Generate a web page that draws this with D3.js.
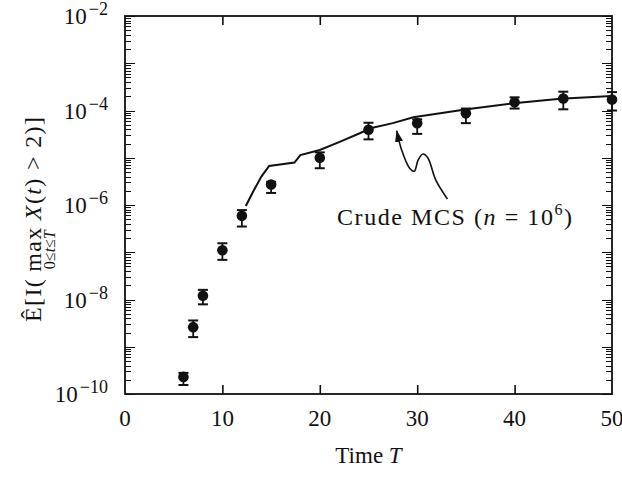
<!DOCTYPE html>
<html>
<head>
<meta charset="utf-8">
<style>
body { margin: 0; background: #fff; }
svg { font-family: "Liberation Serif", "DejaVu Serif", serif; }
.axis line { stroke: #111; stroke-width: 1.6; }
.axis .domain { display: none; }
.tk { stroke: #111; stroke-width: 1.6; shape-rendering: crispEdges; }
.lbl { font-size: 23px; fill: #111; }
</style>
<script src="https://d3js.org/d3.v7.min.js"></script>
</head>
<body>
<svg width="622" height="477"></svg>
<script>
// data
var times = [6, 7, 8, 10, 12, 15, 20, 25, 30, 35, 40, 45, 50];
var estimates = [2.3e-10, 2.6e-9, 1.2e-8, 1.1e-7, 5.9e-7, 2.7e-6, 1.0e-5, 3.9e-5, 5.4e-5, 8.7e-5, 1.5e-4, 1.8e-4, 1.7e-4];
var upper = [2.8e-10, 3.6e-9, 1.6e-8, 1.55e-7, 7.8e-7, 3.1e-6, 1.3e-5, 5.5e-5, 6.5e-5, 1.1e-4, 1.9e-4, 2.5e-4, 2.45e-4];
var lower = [1.55e-10, 1.6e-9, 7.9e-9, 6.9e-8, 3.5e-7, 1.8e-6, 6.0e-6, 2.45e-5, 3.2e-5, 5.4e-5, 1.1e-4, 1.06e-4, 1.0e-4];

// crude MCS curve
var mcsT = [12.4, 13.2, 14.0, 14.8, 17.4, 18.0, 20.0, 22.1, 24.1, 25.2, 27.5, 29.6, 32.7, 35.1, 39.9, 44.7, 50];
var mcsP = [9.5e-7, 2.0e-6, 4.0e-6, 6.7e-6, 7.9e-6, 1.14e-5, 1.46e-5, 2.2e-5, 3.3e-5, 4.2e-5, 5.4e-5, 7.2e-5, 9.0e-5, 1.06e-4, 1.42e-4, 1.78e-4, 2.03e-4];

// annotation arrow (bottom end -> tip), in data units
var arrowT = [33.1, 31.9, 31.1, 30.6, 30.1, 29.7, 29.2, 28.4, 27.9];
var arrowP = [1.34e-6, 3.4e-6, 9.9e-6, 1.2e-5, 9.0e-6, 5.2e-6, 6.1e-6, 1.46e-5, 3.7e-5];

var xTicks = [0, 10, 20, 30, 40, 50];
var yLabelExps = [-10, -8, -6, -4, -2];

var svg = d3.select("svg");
var mLeft = 125, mRight = 612, mTop = 16, mBottom = 394;

var x = d3.scaleLinear().domain([0, 50]).range([mLeft, mRight]);
var y = d3.scaleLog().domain([1e-10, 1e-2]).range([mBottom, mTop]);

var majors = [];
var minors = [];
for (var e = -10; e <= -2; e++) {
  majors.push(Math.pow(10, e));
  if (e < -2) {
    for (var k = 2; k <= 9; k++) minors.push(k * Math.pow(10, e));
  }
}
var innerX = xTicks.filter(function(t) { return t > 0 && t < 50; });

// y ticks on both sides, pointing inward
function yTicks(vals, len) {
  var g = svg.append("g");
  vals.forEach(function(v) {
    var yy = Math.round(y(v)) + 0.5;
    g.append("line").attr("class", "tk")
      .attr("x1", mLeft).attr("x2", mLeft + len).attr("y1", yy).attr("y2", yy);
    g.append("line").attr("class", "tk")
      .attr("x1", mRight).attr("x2", mRight - len).attr("y1", yy).attr("y2", yy);
  });
}
yTicks(majors, 10);
yTicks(minors, 6);

function ticks(axis, tr) {
  svg.append("g").attr("class", "axis").attr("transform", tr).call(axis);
}
ticks(d3.axisTop(x).tickValues(innerX).tickSize(9).tickFormat(""), "translate(0," + mBottom + ")");
ticks(d3.axisBottom(x).tickValues(innerX).tickSize(9).tickFormat(""), "translate(0," + mTop + ")");

// frame
svg.append("rect")
  .attr("x", mLeft).attr("y", mTop)
  .attr("width", mRight - mLeft).attr("height", mBottom - mTop)
  .attr("fill", "none").attr("stroke", "#111").attr("stroke-width", 1.8);

// x tick labels
svg.selectAll(".xl").data(xTicks).enter().append("text")
  .attr("class", "lbl")
  .attr("x", function(d) { return x(d); })
  .attr("y", 426)
  .attr("text-anchor", "middle")
  .text(function(d) { return d; });

// y tick labels 10^e
var yl = svg.selectAll(".yl").data(yLabelExps).enter().append("text")
  .attr("class", "lbl")
  .attr("x", 108)
  .attr("y", function(d) { return y(Math.pow(10, d)) + 8; })
  .attr("text-anchor", "end");
yl.append("tspan").text("10");
yl.append("tspan").attr("dy", -9).attr("dx", 2).style("font-size", "18px")
  .text(function(d) { return "\u2212" + (-d); });

// axis titles
var xt = svg.append("text").attr("class", "lbl")
  .attr("x", (mLeft + mRight) / 2).attr("y", 463).attr("text-anchor", "middle");
xt.append("tspan").text("Time ");
xt.append("tspan").style("font-style", "italic").text("T");

var yt = svg.append("g").attr("transform", "translate(41,220) rotate(-90)");
var yText = yt.append("text").attr("class", "lbl").attr("y", 0).style("font-size", "24px")
  .attr("textLength", 205).attr("lengthAdjust", "spacing").attr("x", -102);
yText.append("tspan").text("\u00CA[I(\u2009");
yText.append("tspan").text("max");
yText.append("tspan").text("\u2009");
yText.append("tspan").style("font-style", "italic").text("X");
yText.append("tspan").text("(");
yText.append("tspan").style("font-style", "italic").text("t");
yText.append("tspan").text(") > 2)]");
var mStart = yText.node().getStartPositionOfChar(5).x;
var mEnd = yText.node().getEndPositionOfChar(7).x;
var sub = yt.append("text").attr("class", "lbl").style("font-size", "16px")
  .attr("x", (mStart + mEnd) / 2).attr("y", 14).attr("text-anchor", "middle");
sub.append("tspan").text("0\u2264");
sub.append("tspan").style("font-style", "italic").text("t");
sub.append("tspan").text("\u2264");
sub.append("tspan").style("font-style", "italic").text("T");

// crude MCS line
var line = d3.line()
  .x(function(d, i) { return x(mcsT[i]); })
  .y(function(d, i) { return y(mcsP[i]); });
svg.append("path")
  .attr("d", line(mcsT))
  .attr("fill", "none").attr("stroke", "#111").attr("stroke-width", 2);

// error bars and points
var pts = svg.selectAll(".pt").data(times).enter().append("g");
pts.append("line")
  .attr("x1", function(d) { return x(d); }).attr("x2", function(d) { return x(d); })
  .attr("y1", function(d, i) { return y(upper[i]); })
  .attr("y2", function(d, i) { return y(lower[i]); })
  .attr("stroke", "#111").attr("stroke-width", 1.8);
[upper, lower].forEach(function(arr) {
  pts.append("line")
    .attr("x1", function(d) { return x(d) - 5; }).attr("x2", function(d) { return x(d) + 5; })
    .attr("y1", function(d, i) { return y(arr[i]); })
    .attr("y2", function(d, i) { return y(arr[i]); })
    .attr("stroke", "#111").attr("stroke-width", 2);
});
pts.append("circle")
  .attr("cx", function(d) { return x(d); })
  .attr("cy", function(d, i) { return y(estimates[i]); })
  .attr("r", 5.3).attr("fill", "#111");

// annotation
svg.append("defs").append("marker")
  .attr("id", "head").attr("viewBox", "0 0 12 8")
  .attr("refX", 11).attr("refY", 4)
  .attr("markerWidth", 12).attr("markerHeight", 8)
  .attr("markerUnits", "userSpaceOnUse")
  .attr("orient", "auto")
  .append("path").attr("d", "M0,0 L12,4 L0,8 Z").attr("fill", "#111");
var arrowLine = d3.line()
  .curve(d3.curveCatmullRom)
  .x(function(d, i) { return x(arrowT[i]); })
  .y(function(d, i) { return y(arrowP[i]); });
svg.append("path")
  .attr("d", arrowLine(arrowT))
  .attr("fill", "none").attr("stroke", "#111").attr("stroke-width", 1.6)
  .attr("marker-end", "url(#head)");

var ann = svg.append("text").attr("class", "lbl").style("font-size", "24px")
  .attr("x", 337).attr("y", 225)
  .attr("textLength", 235).attr("lengthAdjust", "spacing");
ann.append("tspan").text("Crude MCS (");
ann.append("tspan").style("font-style", "italic").text("n");
ann.append("tspan").text(" = 10");
ann.append("tspan").attr("dy", -10).style("font-size", "16px").text("6");
ann.append("tspan").attr("dy", 10).text(")");
</script>
</body>
</html>
